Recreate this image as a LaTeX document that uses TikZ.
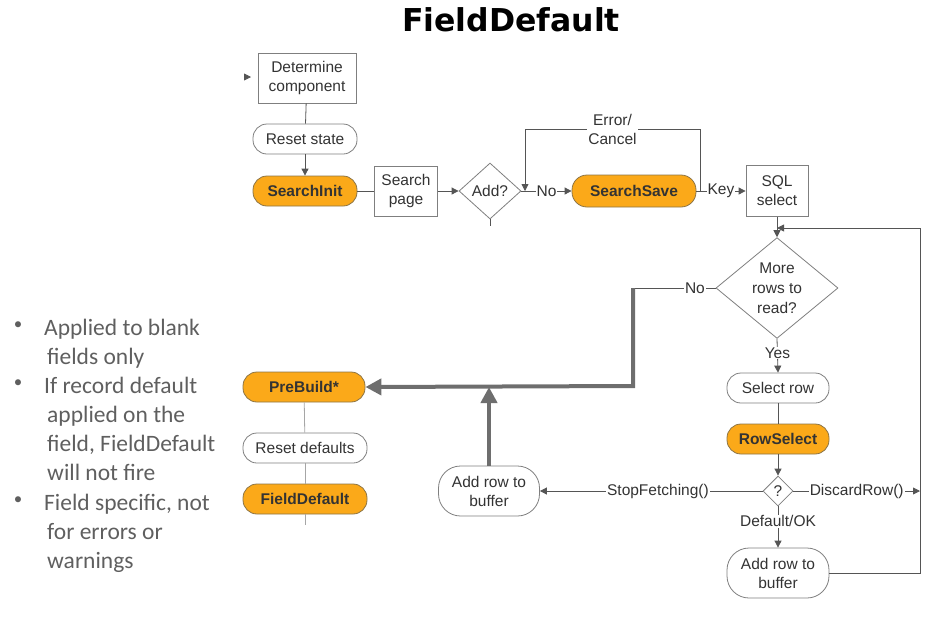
\documentclass[tikz,border=0pt]{standalone}
\usepackage{fontspec}
\setmainfont{Liberation Sans}
\newfontfamily\titlefont{DejaVu Sans}
\newfontfamily\bulletfont{Carlito}
\usetikzlibrary{arrows.meta,shapes.geometric}
\definecolor{orng}{HTML}{FBA919}
\definecolor{orngborder}{HTML}{8C7446}
\definecolor{boxborder}{HTML}{7F7F7F}
\definecolor{lncol}{HTML}{555555}
\definecolor{txtcol}{HTML}{333333}
\definecolor{thkcol}{HTML}{6E6E6E}
\definecolor{bulcol}{HTML}{5F5F5F}
\begin{document}
\begin{tikzpicture}[x=1pt,y=-1pt,
  every node/.style={font=\fontsize{15.5}{19}\selectfont, text=txtcol, inner sep=0pt},
  box/.style={draw=boxborder, line width=0.8pt, fill=white, align=center},
  pill/.style={draw=boxborder, line width=0.8pt, fill=white, rounded corners=14pt, minimum width=104pt, minimum height=30pt, align=center},
  opill/.style={pill, fill=orng, draw=orngborder, font=\fontsize{15.5}{19}\selectfont\bfseries},
  dia/.style={draw=boxborder, line width=0.8pt, fill=white, diamond, align=center},
  ln/.style={draw=lncol, line width=0.8pt},
  arr/.style={ln, -{Triangle[length=7pt,width=7pt]}},
  thk/.style={draw=thkcol, line width=4pt, -{Triangle[length=16pt,width=16pt]}},
  lbl/.style={fill=white, inner sep=1pt},
  bul/.style={font=\bulletfont\fontsize{23.5}{29}\selectfont, text=bulcol, anchor=base west},
  dot/.style={font=\bulletfont\fontsize{17}{20}\selectfont, text=bulcol, anchor=center}
]
\useasboundingbox (0,0) rectangle (952,625);

% title
\node[font=\titlefont\bfseries\fontsize{31.5}{34}\selectfont, text=black] (title) at (511,20) {FieldDefault};

% nodes
\node[box, minimum width=98pt, minimum height=50pt] (det) at (307,78) {Determine\\component};
\node[pill] (rstate) at (305,139) {Reset state};
\node[opill] (sinit) at (305,191) {SearchInit};
\node[box, minimum width=63pt, minimum height=50pt] (spage) at (406,191) {Search\\page};
\node[dia, minimum width=62pt, minimum height=56pt] (add) at (490,191) {Add?};
\node[opill, minimum width=124pt, minimum height=32pt, rounded corners=15pt] (ssave) at (634,191) {SearchSave};
\node[box, minimum width=62pt, minimum height=51pt] (sql) at (777,191) {SQL\\select};
\node[dia, minimum width=122pt, minimum height=80pt, font=\fontsize{15.5}{20}\selectfont] (more) at (777,288) {More\\rows to\\read?};
\node[pill, minimum width=102pt] (selrow) at (778,388) {Select row};
\node[opill, minimum width=102pt] (rowsel) at (778,439) {RowSelect};
\node[dia, minimum width=30pt, minimum height=30pt] (q) at (778,491) {?};
\node[pill, minimum width=102pt, minimum height=50pt, rounded corners=22pt] (rbuf) at (778,573) {Add row to\\buffer};
\node[pill, minimum width=101pt, minimum height=50pt, rounded corners=22pt] (lbuf) at (489,491) {Add row to\\buffer};
\node[opill, minimum width=122pt] (prebuild) at (304,387) {PreBuild*};
\node[pill, minimum width=124pt] (rdef) at (305,448) {Reset defaults};
\node[opill, minimum width=124pt] (fdef) at (305,499) {FieldDefault};

% coordinates
\coordinate (entry) at (244,77);
\coordinate (entryend) at (251,77);
\coordinate (addstub) at (490,226);
\coordinate (ecr) at (700,129);
\coordinate (ecl) at (525,129);
\coordinate (rc) at (920,228);
\coordinate (nc) at (633,288);
\coordinate (nd) at (633,386);
\coordinate (uptip) at (489,387);
\coordinate (fstub) at (305,525);

% connectors
\draw[arr] (entry) -- (entryend);
\draw[ln] (det) -- (rstate);
\draw[arr] (rstate) -- (sinit);
\draw[ln] (sinit) -- (spage);
\draw[arr] (spage) -- (add);
\draw[ln] (add.south) -- (addstub);
\draw[arr] (add.east) -- node[lbl]{No} (ssave.west);
\draw[arr] (ecr |- ssave.east) -- (ecr) -- node[lbl, align=center]{Error/\\Cancel} (ecl) -- (ecl |- add.east);
\draw[arr] (ssave.east) -- node[lbl, pos=0.5]{Key} (sql.west);
\draw[arr] (sql) -- (more);
\draw[arr] (rbuf.east) -| (rc) -- (sql.south |- rc);
\draw[arr] (more.south) -- node[lbl, pos=0.42]{Yes} (selrow.north);
\draw[ln] (selrow) -- (rowsel);
\draw[arr] (rowsel) -- (q);
\draw[arr] (q.east) -- node[lbl]{DiscardRow()} (rc |- q.east);
\draw[arr] (q.west) -- node[lbl, pos=0.47]{StopFetching()} (lbuf.east);
\draw[arr] (q.south) -- node[lbl, pos=0.36]{Default/OK} (rbuf.north);
\draw[ln] (more.west) -- node[lbl, pos=0.25]{No} (nc);
\draw[thk] (nc) -- (nd) -- (prebuild.east);
\draw[thk] (lbuf.north) -- (uptip);
\draw[ln, draw=gray!70] (prebuild) -- (rdef);
\draw[ln, draw=gray!70] (rdef) -- (fdef);
\draw[ln, draw=gray!70] (fdef.south) -- (fstub);

% bullets
\node[dot] (d1) at (18,326) {•};
\node[bul] (l1) at (44,335) {Applied to blank};
\node[bul] (l2) at (47,364) {fields only};
\node[dot] (d2) at (18,384) {•};
\node[bul] (l3) at (44,393) {If record default};
\node[bul] (l4) at (47,422) {applied on the};
\node[bul] (l5) at (47,451) {field, FieldDefault};
\node[bul] (l6) at (47,480) {will not fire};
\node[dot] (d3) at (18,501) {•};
\node[bul] (l7) at (44,510) {Field specific, not};
\node[bul] (l8) at (47,539) {for errors or};
\node[bul] (l9) at (47,568) {warnings};
\end{tikzpicture}
\end{document}
